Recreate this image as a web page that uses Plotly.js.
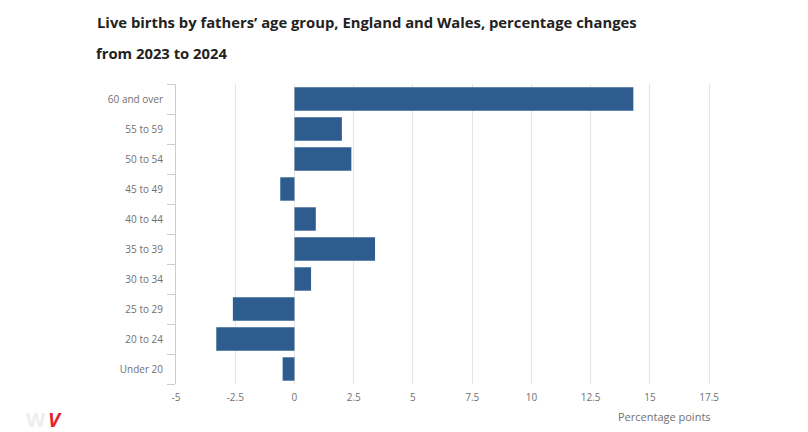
<!DOCTYPE html>
<html>
<head>
<meta charset="utf-8">
<script src="https://cdn.plot.ly/plotly-3.0.1.min.js"></script>
<style>html,body{margin:0;padding:0;background:#fff;}#chart{width:808px;height:432px;}</style>
</head>
<body>
<div id="chart"></div>
<script>
const categories = ['Under 20', '20 to 24', '25 to 29', '30 to 34', '35 to 39', '40 to 44', '45 to 49', '50 to 54', '55 to 59', '60 and over'];
const changes = [-0.5, -3.3, -2.6, 0.7, 3.4, 0.9, -0.6, 2.4, 2.0, 14.3];
const xTicks = [-5, -2.5, 0, 2.5, 5, 7.5, 10, 12.5, 15, 17.5];
const titleLine1 = 'Live births by fathers\u2019 age group, England and Wales, percentage changes';
const titleLine2 = 'from 2023 to 2024';
const xAxisTitle = 'Percentage points';

const trace = {
  type: 'bar',
  orientation: 'h',
  x: changes,
  y: categories,
  marker: {color: '#2e5c8f'},
  hoverinfo: 'x+y'
};

const tickFont = {family: 'Open Sans, sans-serif', size: 10, color: '#707070'};

const layout = {
  width: 808,
  height: 432,
  paper_bgcolor: '#ffffff',
  plot_bgcolor: '#ffffff',
  margin: {l: 176, r: 87, t: 84, b: 48},
  bargap: 0.22,
  showlegend: false,
  title: {
    text: '<b>' + titleLine1 + '</b>',
    font: {family: 'Open Sans, sans-serif', size: 14.8, color: '#222222'},
    xref: 'container', x: 97 / 808, xanchor: 'left',
    yref: 'container', y: 1 - 23 / 432, yanchor: 'middle'
  },
  xaxis: {
    range: [-5, 18],
    tickmode: 'array',
    tickvals: xTicks,
    ticktext: xTicks.map(String),
    showgrid: true,
    gridcolor: '#e4e4e4',
    gridwidth: 1,
    zeroline: false,
    showline: false,
    ticks: '',
    ticklabelstandoff: 6,
    tickfont: tickFont,
    fixedrange: true
  },
  yaxis: {
    type: 'category',
    categoryorder: 'array',
    categoryarray: categories,
    showline: true,
    linecolor: '#cccccc',
    linewidth: 1,
    ticks: 'outside',
    tickson: 'boundaries',
    ticklen: 8,
    tickcolor: '#cccccc',
    ticklabelstandoff: 10,
    showgrid: false,
    zeroline: false,
    tickfont: tickFont,
    fixedrange: true
  },
  annotations: [
    {
      text: '<b>' + titleLine2 + '</b>',
      xref: 'paper', x: (97 - 176) / 545, xanchor: 'left', xshift: -3,
      yref: 'paper', y: (384 - 53) / 300, yanchor: 'middle',
      showarrow: false,
      font: {family: 'Open Sans, sans-serif', size: 14.8, color: '#222222'}
    },
    {
      text: xAxisTitle,
      xref: 'x', x: 17.5, xanchor: 'right', xshift: 4,
      yref: 'paper', y: 0, yanchor: 'top', yshift: -23,
      showarrow: false,
      font: {family: 'Open Sans, sans-serif', size: 11, color: '#707070'}
    },
    {
      text: '<b>W</b>',
      xref: 'paper', x: (24 - 176) / 545, xanchor: 'left',
      yref: 'paper', y: (384 - 419) / 300, yanchor: 'middle',
      showarrow: false,
      font: {family: 'Open Sans, sans-serif', size: 20, color: '#eeeeee'}
    },
    {
      text: '<b><i>V</i></b>',
      xref: 'paper', x: (46 - 176) / 545, xanchor: 'left',
      yref: 'paper', y: (384 - 419) / 300, yanchor: 'middle',
      showarrow: false,
      font: {family: 'Open Sans, sans-serif', size: 20, color: '#e3242b'}
    }
  ]
};

Plotly.newPlot('chart', [trace], layout, {displayModeBar: false, staticPlot: true});
</script>
</body>
</html>
